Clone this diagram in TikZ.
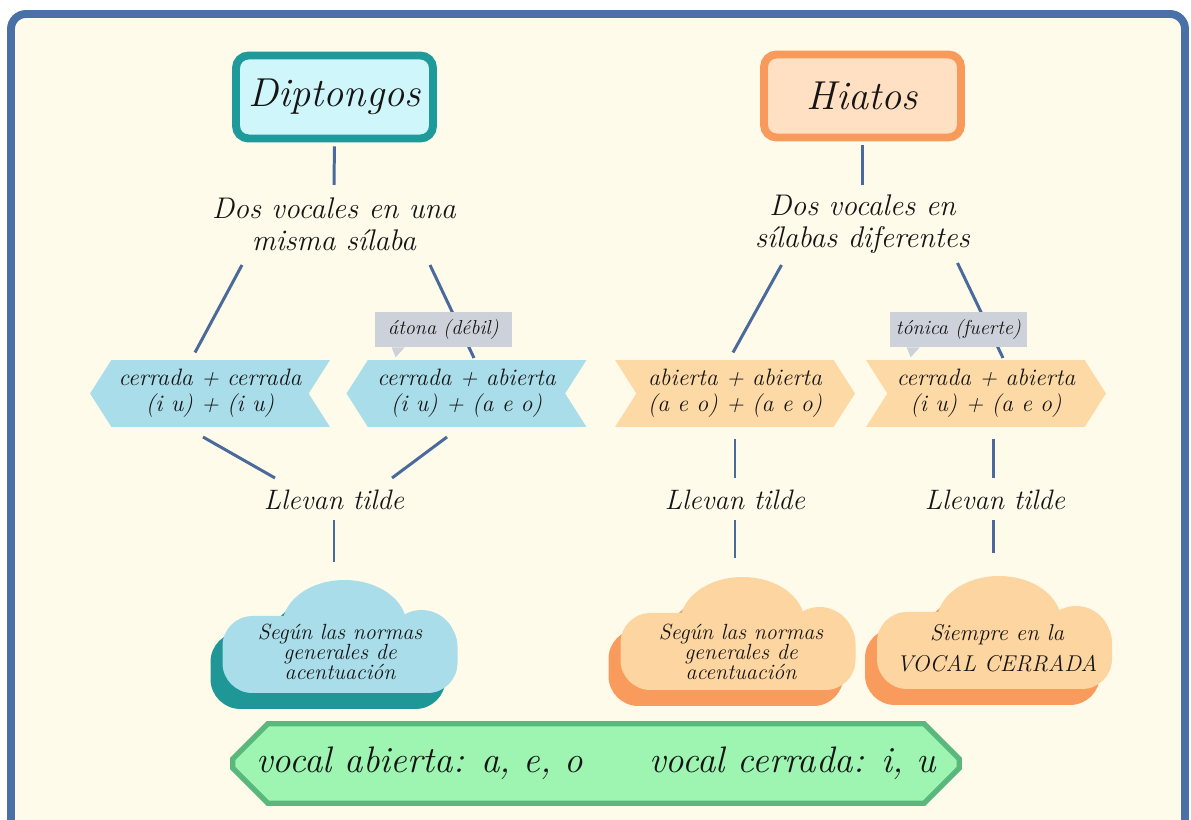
\documentclass[tikz,border=0pt]{standalone}
\usepackage{tikz}
\usetikzlibrary{shapes.symbols, shapes.misc, calc, positioning}

\definecolor{frameblue}{HTML}{4A70A8}
\definecolor{cream}{HTML}{FFFBEA}
\definecolor{diptedge}{HTML}{1E9A9B}
\definecolor{diptfill}{HTML}{CFF6FA}
\definecolor{hiatedge}{HTML}{F89A5C}
\definecolor{hiatfill}{HTML}{FFE0C2}
\definecolor{tagblue}{HTML}{AADDEA}
\definecolor{tagorange}{HTML}{FDD9A6}
\definecolor{notegrey}{HTML}{CDD2DA}
\definecolor{linebl}{HTML}{4A6A9C}
\definecolor{cloudteal}{HTML}{1F9797}
\definecolor{cloudorange}{HTML}{FDD5A0}
\definecolor{cloudshade}{HTML}{F89B5C}
\definecolor{legendfill}{HTML}{9DF5B1}
\definecolor{legendedge}{HTML}{5AB87D}
\definecolor{ink}{HTML}{151515}

% cloud: #1,#2 = top centre of the base, #3 = front colour, #4 = shadow colour
\newcommand{\cloudblob}[4]{%
  \foreach \dx/\dy/\col in {-12/16/#4, 0/0/#3}{
    \begin{scope}[shift={(#1+\dx,#2+\dy)}]
      \fill[\col, rounded corners=0.6cm] (-117,4) rectangle (118,81);
      \fill[\col] (5,13) ellipse [x radius=1.24cm, y radius=0.9cm];
      \fill[\col] (82,33) circle [radius=0.7cm];
    \end{scope}
  }}

\begin{document}
\begin{tikzpicture}[x=0.02cm, y=-0.02cm, text=ink,
  titlebox/.style={rectangle, rounded corners=0.25cm, line width=4.5pt, minimum width=3.94cm, minimum height=1.66cm, font=\fontsize{23}{26}\selectfont\itshape},
  deftext/.style={align=center, inner sep=0pt, font=\fontsize{17}{18}\selectfont\itshape},
  tagbox/.style={signal, signal pointer angle=115, minimum width=4.8cm, minimum height=1.34cm, inner sep=0pt, align=center, font=\fontsize{13.5}{15}\selectfont\itshape},
  tagleft/.style={tagbox, fill=tagblue, signal to=west, signal from=east},
  tagright/.style={tagbox, fill=tagorange, signal to=east, signal from=west},
  notebox/.style={rectangle, fill=notegrey, minimum width=2.74cm, minimum height=0.7cm, inner sep=0pt, font=\fontsize{11.5}{13}\selectfont\itshape},
  tildetext/.style={inner sep=0pt, font=\fontsize{16}{18}\selectfont\itshape},
  cloudtext/.style={align=center, inner sep=0pt, font=\fontsize{12.5}{11.5}\selectfont\itshape},
  legendbox/.style={chamfered rectangle, chamfered rectangle xsep=0.35cm, chamfered rectangle ysep=0.35cm, draw=legendedge, line width=3pt, fill=legendfill, minimum width=14.5cm, minimum height=1.4cm, font=\fontsize{21}{24}\selectfont\itshape},
  conn/.style={draw=linebl, line width=1.7pt}]

    \useasboundingbox (0,0) rectangle (1191,820);
    \clip (0,0) rectangle (1191,820);
    \fill[white] (0,0) rectangle (1191,820);
    \draw[frameblue, fill=cream, line width=4.5pt, rounded corners=0.3cm] (11,14) rectangle (1185,860);

    %Clouds
    \cloudblob{339.5}{612}{tagblue}{cloudteal}
    \cloudblob{737.5}{609}{cloudorange}{cloudshade}
    \cloudblob{994}{608}{cloudorange}{cloudshade}

    %Nodes
    \node[titlebox, draw=diptedge, fill=diptfill](dipt) at (334.5,97){Diptongos};
    \node[titlebox, draw=hiatedge, fill=hiatfill](hiat) at (862.5,96){Hiatos};
    \node[deftext](defD) at (334,224){Dos vocales en una\\misma sílaba};
    \node[deftext](defH) at (862.5,224){Dos vocales en\\sílabas diferentes};
    \node[tagleft](tagA) at (210,393.5){cerrada + cerrada\\(i u) + (i u)};
    \node[tagleft](tagB) at (466.5,393.5){cerrada + abierta\\(i u) + (a e o)};
    \node[tagright](tagC) at (735,393.5){abierta + abierta\\(a e o) + (a e o)};
    \node[tagright](tagD) at (986,393.5){cerrada + abierta\\(i u) + (a e o)};
    \node[tildetext](tildeA) at (334,500){Llevan tilde};
    \node[tildetext](tildeB) at (735,500){Llevan tilde};
    \node[tildetext](tildeC) at (995,500){Llevan tilde};
    \node[cloudtext](cloudA) at (340,652){Según las normas\\generales de\\acentuación};
    \node[cloudtext](cloudB) at (741,652){Según las normas\\generales de\\acentuación};
    \node[cloudtext, font=\fontsize{13}{17.5}\selectfont\itshape](cloudC) at (997,648){Siempre en la\\VOCAL CERRADA};
    \node[legendbox](legend) at (596,763.5){vocal abierta: a, e, o\hspace{1.8em}vocal cerrada: i, u};

    %Lines
    \draw[conn, shorten <=2.3pt] (dipt.south) -- ($(defD.center)+(0,-39)$);
    \draw[conn, shorten <=2.3pt] (hiat.south) -- ($(defH.center)+(0,-39)$);
    \draw[conn] ($(defD.center)+(-92,41)$) -- ($(tagA.center)+(-15,-41)$);
    \draw[conn] ($(defD.center)+(96,41)$) -- ($(tagB.center)+(7.5,-35.5)$);
    \draw[conn] ($(defH.center)+(-81,41)$) -- ($(tagC.center)+(-2,-41)$);
    \draw[conn] ($(defH.center)+(95,39)$) -- ($(tagD.center)+(17,-35.5)$);
    \draw[conn] ($(tagA.center)+(-7,43.5)$) -- ($(tildeA.center)+(-59,-22)$);
    \draw[conn] ($(tagB.center)+(-19.5,43.5)$) -- ($(tildeA.center)+(58,-22)$);
    \draw[conn] ($(tildeA.center)+(0,20)$) -- ($(tildeA.center |- cloudA.center)+(0,-90)$);
    \draw[conn] ($(tagC.center)+(0,46)$) -- ($(tildeB.center)+(0,-22)$);
    \draw[conn] ($(tildeB.center)+(0,20)$) -- ($(tildeB.center |- cloudB.center)+(0,-94)$);
    \draw[conn] ($(tagD.center)+(7,46)$) -- ($(tildeC.center)+(-2,-22)$);
    \draw[conn] ($(tildeC.center)+(-2,20)$) -- ($(tildeC.center |- cloudC.center)+(-2,-95)$);

    %Notes
    \node[notebox](atona) at (443.5,329.5){átona (débil)};
    \fill[notegrey] ($(atona.south west)+(17,0)$) -- ++(4,10) -- ++(9,-10) -- cycle;
    \node[notebox](tonica) at (958.5,329.5){tónica (fuerte)};
    \fill[notegrey] ($(tonica.south west)+(17,0)$) -- ++(4,10) -- ++(9,-10) -- cycle;

\end{tikzpicture}
\end{document}
